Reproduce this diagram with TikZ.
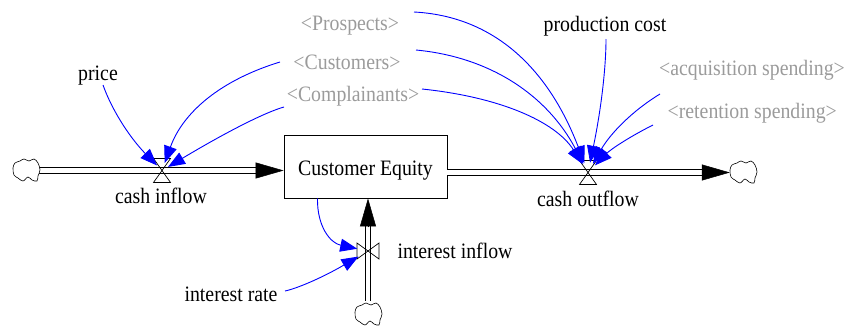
\documentclass[tikz,border=0pt]{standalone}
\usepackage{fontspec}
\setmainfont{Liberation Serif}[FakeStretch=0.9]
\usetikzlibrary{arrows.meta}
\definecolor{linkblue}{RGB}{0,0,255}
\definecolor{shadowgray}{RGB}{155,155,155}

\tikzset{
  vcloud/.pic={
    \draw[line width=0.6pt, fill=white] plot[smooth cycle, tension=0.6] coordinates
      {(-13,-2) (-11,-7) (-6,-9) (-2,-11) (3,-9) (8,-11) (12,-7) (14,0)
       (12,6) (11,11) (6,10) (2,7) (-3,11) (-8,8) (-12,5)};
  },
  hvalve/.pic={
    \draw[line width=0.7pt] (-8.5,-12) -- (8.5,-12) -- (-8.5,12) -- (8.5,12) -- cycle;
  },
  vvalve/.pic={
    \draw[line width=0.7pt] (-11,-8) -- (-11,8) -- (11,-8) -- (11,8) -- cycle;
  }
}

\begin{document}
\begin{tikzpicture}[x=1pt, y=-1pt,
  lbl/.style={font=\fontsize{22}{26}\selectfont, inner sep=0pt, anchor=base},
  shadowlbl/.style={lbl, text=shadowgray},
  stockbox/.style={draw, line width=0.8pt, minimum width=163pt, minimum height=63pt,
                   font=\fontsize{22}{26}\selectfont, text height=19pt, text depth=2pt},
  cloudspot/.style={circle, minimum size=26pt, inner sep=0pt},
  pipe/.style={draw=black, line width=0.9pt, double=white, double distance=4.6pt},
  pipehead/.style={line width=0.5pt, -{Triangle[length=28pt, width=16pt]}},
  link/.style={draw=linkblue, line width=0.9pt, -{Triangle[length=17pt, width=13pt]}}]
\useasboundingbox (0,0) rectangle (846,325);

% stock, clouds and valve positions
\node[stockbox] (ce) at (365.5,166.5) {Customer Equity};
\node[cloudspot] (cL) at (26,170) {};
\node[cloudspot] (cR) at (743,172) {};
\node[cloudspot] (cB) at (368,314) {};
\coordinate (vin) at (162,170.5);
\coordinate (vout) at (588,172.5);
\coordinate (vint) at (368,251);

% flow pipes with their arrow heads
\draw[pipe, shorten >=27pt] (cL.east |- vin) -- (ce.west |- vin);
\draw[pipehead] ([shift={(-28,0)}]ce.west |- vin) -- (ce.west |- vin);
\draw[pipe, shorten >=27pt] (ce.east |- vout) -- (cR.west |- vout);
\draw[pipehead] ([shift={(-28,0)}]cR.west |- vout) -- (cR.west |- vout);
\draw[pipe, shorten >=28pt] (cB.north -| vint) -- (ce.south -| vint);
\draw[pipehead] ([shift={(0,29)}]ce.south -| vint) -- (ce.south -| vint);

\pic at (cL) {vcloud};
\pic at (cR) {vcloud};
\pic at (cB) {vcloud};
\pic at (vin) {hvalve};
\pic at (vout) {hvalve};
\pic at (vint) {vvalve};

% labels (placed by their baselines)
\node[lbl] (fin) at (161,203) {cash inflow};
\node[lbl] (fout) at (588,206) {cash outflow};
\node[lbl] (fint) at (455,258) {interest inflow};
\node[lbl] (price) at (98,80) {price};
\node[lbl] (irate) at (231,301) {interest rate};
\node[lbl] (pcost) at (605,31) {production cost};
\node[shadowlbl] (prosp) at (350,30) {<Prospects>};
\node[shadowlbl] (cust) at (347,69) {<Customers>};
\node[shadowlbl] (compl) at (353,101) {<Complainants>};
\node[shadowlbl, anchor=base east] (acq) at (845,75) {<acquisition spending>};
\node[shadowlbl, anchor=base east] (ret) at (837,118) {<retention spending>};

% links into cash inflow
\draw[link, shorten >=7pt] ([shift={(5,5)}]price.base) .. controls (113,113) and (132,140) .. (vin);
\draw[link, shorten >=8pt] ([shift={(-67,-7)}]cust.base) .. controls (221,80) and (183,112) .. (vin);
\draw[link, shorten >=7pt] ([shift={(-69,6)}]compl.base) .. controls (266,112) and (228,131) .. (vin);

% links into cash outflow
\draw[link, shorten >=10pt] ([shift={(64,-18)}]prosp.base) .. controls (491,16) and (547,65) .. (vout);
\draw[link, shorten >=10pt] ([shift={(69,-19)}]cust.base) .. controls (490,57) and (547,95) .. (vout);
\draw[link, shorten >=10pt] ([shift={(69,-12)}]compl.base) .. controls (499,97) and (555,121) .. (vout);
\draw[link, shorten >=10pt] ([shift={(1,8)}]pcost.base) .. controls (606,68) and (601,110) .. (vout);
\draw[link, shorten >=10pt] ([shift={(-185,19)}]acq.base east) .. controls (632,111) and (610,134) .. (vout);
\draw[link, shorten >=10pt] ([shift={(-184,7)}]ret.base east) .. controls (631,136) and (611,149) .. (vout);

% links into interest inflow
\draw[link, shorten >=11pt] ([shift={(54,-10)}]irate.base) .. controls (295,289) and (320,279) .. (vint);
\draw[link, shorten >=11pt] ([shift={(-48,0)}]ce.south) .. controls (317,226) and (330,243) .. (vint);
\end{tikzpicture}
\end{document}
